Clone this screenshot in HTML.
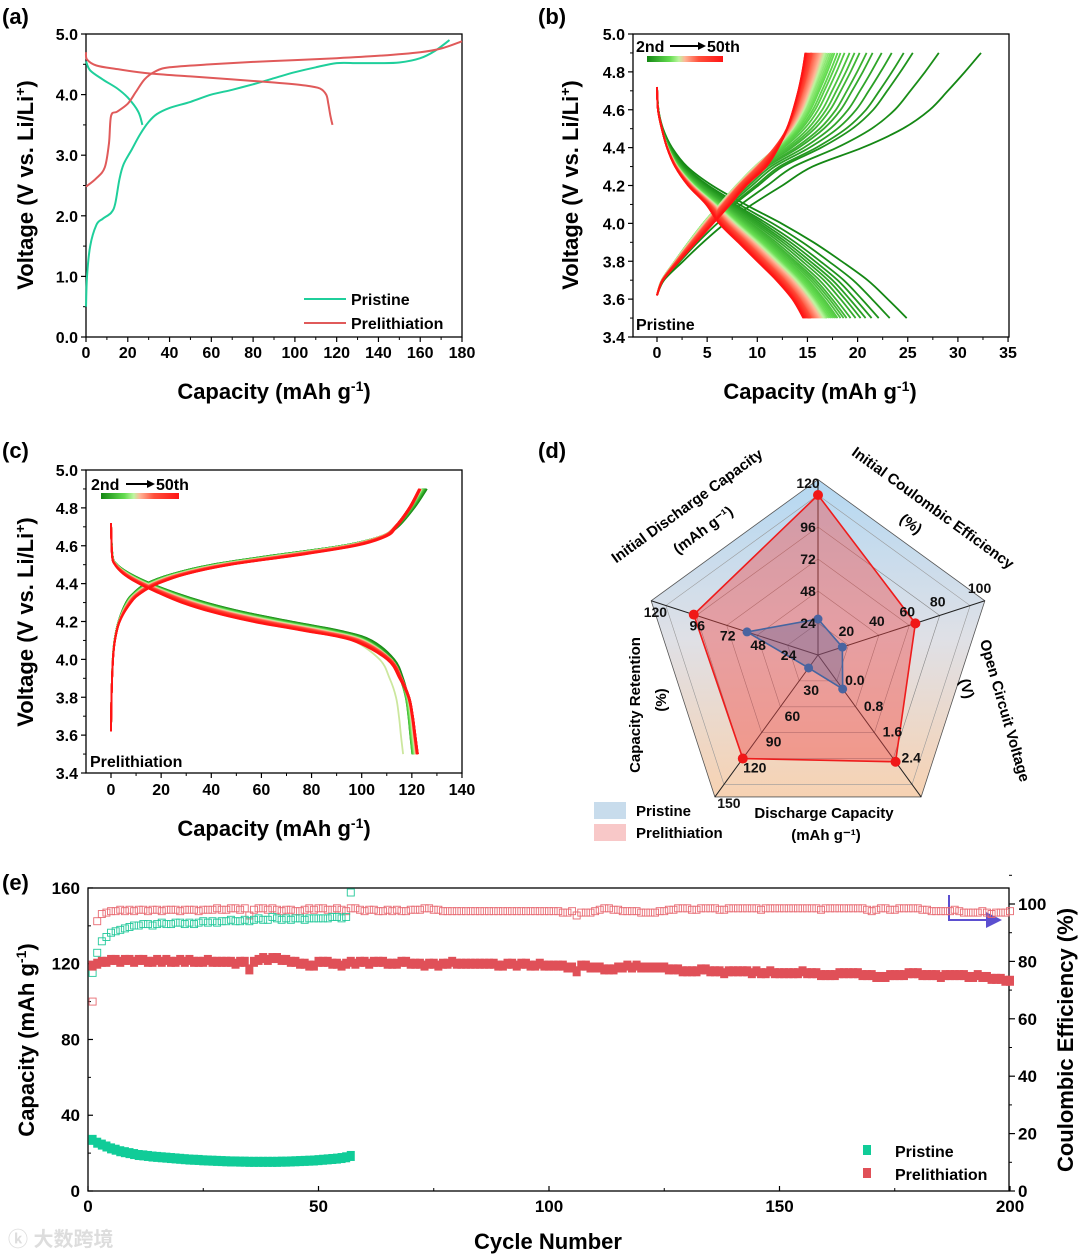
<!DOCTYPE html>
<html><head><meta charset="utf-8"><style>
html,body{margin:0;padding:0;background:#fff;}
svg{display:block;font-family:"Liberation Sans","Noto Sans CJK SC",sans-serif;}
.b{font-weight:bold;}
</style></head><body>
<svg id="fig" width="1080" height="1256" viewBox="0 0 1080 1256" xmlns="http://www.w3.org/2000/svg">
<defs>
<linearGradient id="cyc" x1="0" x2="1" y1="0" y2="0">
<stop offset="0" stop-color="#148714"/><stop offset="0.3" stop-color="#64dc50"/><stop offset="0.42" stop-color="#bef5a0"/><stop offset="0.5" stop-color="#ffb496"/><stop offset="0.68" stop-color="#ff503c"/><stop offset="1" stop-color="#ff1414"/>
</linearGradient>
<linearGradient id="radbg" x1="0" x2="0" y1="0" y2="1">
<stop offset="0" stop-color="#b4d8f2"/><stop offset="0.5" stop-color="#dfe0e6"/><stop offset="1" stop-color="#f7d2b2"/>
</linearGradient>
<marker id="arrowhead" markerWidth="8" markerHeight="8" refX="6" refY="4" orient="auto"><path d="M0,0 L8,4 L0,8 z" fill="#5b4fd0"/></marker>
</defs>

<text x="2" y="24" font-size="22" class="b">(a)</text>
<text x="538" y="24" font-size="22" class="b">(b)</text>
<text x="2" y="458" font-size="22" class="b">(c)</text>
<text x="538" y="458" font-size="22" class="b">(d)</text>
<text x="2" y="890" font-size="22" class="b">(e)</text>

<text transform="translate(33,185) rotate(-90)" text-anchor="middle" font-size="22" class="b">Voltage (V vs. Li/Li<tspan dy="-8" font-size="14">+</tspan><tspan dy="8">)</tspan></text>
<text x="274" y="399" text-anchor="middle" font-size="22" class="b">Capacity (mAh g<tspan dy="-8" font-size="14">-1</tspan><tspan dy="8">)</tspan></text>
<text transform="translate(578,185) rotate(-90)" text-anchor="middle" font-size="22" class="b">Voltage (V vs. Li/Li<tspan dy="-8" font-size="14">+</tspan><tspan dy="8">)</tspan></text>
<text x="820" y="399" text-anchor="middle" font-size="22" class="b">Capacity (mAh g<tspan dy="-8" font-size="14">-1</tspan><tspan dy="8">)</tspan></text>
<text transform="translate(33,622) rotate(-90)" text-anchor="middle" font-size="22" class="b">Voltage (V vs. Li/Li<tspan dy="-8" font-size="14">+</tspan><tspan dy="8">)</tspan></text>
<text x="274" y="836" text-anchor="middle" font-size="22" class="b">Capacity (mAh g<tspan dy="-8" font-size="14">-1</tspan><tspan dy="8">)</tspan></text>
<text transform="translate(34,1040) rotate(-90)" text-anchor="middle" font-size="22" class="b">Capacity (mAh g<tspan dy="-8" font-size="14">-1</tspan><tspan dy="8">)</tspan></text>
<text transform="translate(1073,1040) rotate(-90)" text-anchor="middle" font-size="22" class="b">Coulombic Efficiency (%)</text>
<text x="548" y="1249" text-anchor="middle" font-size="22" class="b">Cycle Number</text>

<g>
<line x1="304" y1="299" x2="346" y2="299" stroke="#1fcf9b" stroke-width="2"/>
<text x="351" y="305" font-size="16" class="b">Pristine</text>
<line x1="304" y1="323" x2="346" y2="323" stroke="#e05a5a" stroke-width="2"/>
<text x="351" y="329" font-size="16" class="b">Prelithiation</text>
</g>
<g>
<text x="636" y="52" font-size="16" class="b">2nd</text>
<line x1="670" y1="46" x2="698" y2="46" stroke="#000" stroke-width="2"/><path d="M698,42 L706,46 L698,50z"/>
<text x="707" y="52" font-size="16" class="b">50th</text>
<rect x="647" y="56" width="76" height="6" fill="url(#cyc)"/>
<text x="636" y="330" font-size="16" class="b">Pristine</text>
</g>
<g>
<text x="91" y="490" font-size="16" class="b">2nd</text>
<line x1="126" y1="484" x2="147" y2="484" stroke="#000" stroke-width="2"/><path d="M147,480 L155,484 L147,488z"/>
<text x="156" y="490" font-size="16" class="b">50th</text>
<rect x="101" y="493" width="78" height="6" fill="url(#cyc)"/>
<text x="90" y="767" font-size="16" class="b">Prelithiation</text>
</g>
<g>
<rect x="863" y="1145" width="8" height="10" fill="#10cc98"/>
<text x="895" y="1157" font-size="16" class="b">Pristine</text>
<rect x="863" y="1168" width="8" height="10" fill="#e05058"/>
<text x="895" y="1180" font-size="16" class="b">Prelithiation</text>
</g>
<path d="M949,895 L949,920 L998,920" fill="none" stroke="#5b4fd0" stroke-width="2" marker-end="url(#arrowhead)"/>
<text x="8" y="1246" font-size="20" fill="#ddd" class="b">ⓚ 大数跨境</text>

<g id="gA"></g><g id="gB"></g><g id="gC"></g><g id="gD"></g><g id="gE"></g>
</svg>
<script>
// ===== Panel (a) data =====
const aPristineChargeCap = [0,0.5,2,5,8,12,14,16,18,22,26,30,34,40,50,60,70,80,90,100,110,120,130,140,150,160,167,174];
const aPristineChargeV   = [0.5,1.0,1.5,1.85,1.95,2.05,2.2,2.6,2.85,3.1,3.35,3.55,3.68,3.78,3.88,4.0,4.08,4.17,4.27,4.37,4.45,4.52,4.52,4.52,4.53,4.6,4.72,4.9];
const aPristineDisCap = [0,2,8,15,20,25,27];
const aPristineDisV   = [4.55,4.4,4.25,4.1,3.95,3.72,3.5];
const aPreChargeCap = [0,5,9,11,12,15,20,24,28,33,40,60,80,100,120,140,160,170,180];
const aPreChargeV   = [2.48,2.62,2.8,3.2,3.65,3.72,3.85,4.05,4.25,4.38,4.45,4.5,4.54,4.57,4.6,4.64,4.7,4.76,4.88];
const aPreDisCap = [0,0.5,5,15,30,50,70,90,105,112,115,116,117,118];
const aPreDisV   = [4.7,4.58,4.48,4.42,4.35,4.3,4.25,4.2,4.15,4.1,4.0,3.85,3.65,3.5];
const aXTicks = [0,20,40,60,80,100,120,140,160,180];
const aYTicks = [0,1,2,3,4,5];
const aYLabels = ["0.0","1.0","2.0","3.0","4.0","5.0"];

// ===== Panel (b) data =====
const bChargeV = [3.62,3.7,3.8,3.9,4.0,4.1,4.2,4.3,4.4,4.5,4.6,4.7,4.8,4.9];
const bChargeCapFirst = [0,0.7,2.6,4.6,6.8,9.5,12.5,15.5,20.5,24.5,27.2,29,30.7,32.3];
const bChargeCapLast  = [0,0.6,2.2,3.9,5.6,7.3,8.9,10.9,12.1,13.0,13.6,14.1,14.5,14.8];
const bDisV = [4.72,4.6,4.5,4.4,4.3,4.2,4.1,4.0,3.9,3.8,3.7,3.6,3.5];
const bDisCapFirst = [0,0.15,0.6,1.5,3.0,5.5,8.8,12.4,15.6,18.4,21.0,23.0,24.9];
const bDisCapLast  = [0,0.1,0.5,1.0,1.8,3.1,4.9,6.2,8.1,10.0,11.9,13.5,14.6];
const bChargeEnd = [32.3,28.1,25.5,24.6,23.4,22.4,21.5,20.9,20.2,19.7,19.2,18.7,18.3,18.0,17.7,17.5,17.3,17.1,16.9,16.8,16.7,16.6,16.5,16.4,16.3,16.2,16.1,16.0,15.9,15.8,15.7,15.6,15.5,15.45,15.4,15.35,15.3,15.25,15.2,15.15,15.1,15.05,15.0,14.95,14.9,14.9,14.85,14.8,14.8];
const bDisEnd = [24.9,23.2,22.1,21.4,20.8,20.3,19.8,19.3,18.9,18.6,18.3,18.0,17.8,17.6,17.4,17.2,17.0,16.9,16.8,16.7,16.6,16.5,16.4,16.3,16.2,16.1,16.0,15.9,15.8,15.7,15.6,15.5,15.4,15.35,15.3,15.25,15.2,15.15,15.1,15.05,15.0,14.95,14.9,14.85,14.8,14.75,14.7,14.65,14.6];
const bXTicks = [0,5,10,15,20,25,30,35];
const bYTicks = [3.4,3.6,3.8,4.0,4.2,4.4,4.6,4.8,5.0];

// ===== Panel (c) data =====
const cChargeV = [3.62,3.8,4.0,4.1,4.2,4.3,4.35,4.4,4.45,4.5,4.55,4.6,4.65,4.7,4.8,4.9];
const cChargeCapFirst = [0,0.2,0.7,1.4,3,6,9,14,24,40,65,92,108,114.5,121,126];
const cChargeCapLast  = [0,0.2,0.8,1.6,3.5,8,12,19,30,48,75,98,110,114,119.5,123.5];
const cDisV = [4.72,4.55,4.5,4.45,4.4,4.35,4.3,4.25,4.2,4.15,4.1,4.0,3.9,3.8,3.7,3.6,3.5];
const cDisCapFirst = [0,0.6,2.5,8,16,26,38,53,72,92,104,113,116.5,118.5,119.5,120.2,121];
const cDisCapLast  = [0,0.4,1.5,5,11,19,28,40,56,77,96,110,115,118.5,120,121,122];
const cChargeEnd = [126,125.8,125.6,125.5,125.3,125.2,125,124.9,124.8,124.7,124.6,124.5,124.4,124.3,124.2,124.1,124,124,123.9,123.8,123.8,123.7,123.7,123.6,123.6,123.5,123.5,123.5,123.4,123.4,123.4,123.3,123.3,123.3,123.2,123.2,123.2,123.2,123.1,123.1,123.1,123,123,123,123,123,122.9,122.9,123.5];
const cDisEnd = [121,120.8,120.6,120.5,120.4,120.3,120.3,120.2,120.2,120.3,120.4,120.5,120.6,120.7,120.8,120.9,121,121.1,121.2,121.3,121.4,116.5,121.5,121.6,121.7,121.7,121.8,121.8,121.9,121.9,122,122,122,122.1,122.1,122.1,122.2,122.2,122.2,122.2,122.3,122.3,122.3,122.3,122.4,122.4,122.4,122.4,122];
const cXTicks = [0,20,40,60,80,100,120,140];
const cYTicks = [3.4,3.6,3.8,4.0,4.2,4.4,4.6,4.8,5.0];

// ===== Panel (d) data =====
const dAxes = ["Initial Discharge Capacity","Initial Coulombic Efficiency","Open Circuit Voltage","Discharge Capacity","Capacity Retention"];
const dMax = [120,100,4.0,150,120];
const dPristine = [27,16,1.05,15,56];
const dPrelith = [120,64,3.3,120,98];
const dTickLabels = [["24","48","72","96","120"],["20","40","60","80","100"],["0.0","0.8","1.6","2.4",""],["30","60","90","120","150"],["24","48","72","96","120"]];

// ===== Panel (e) data =====
const ePreCap = [119,120,121,121,122,122,121,122,122,121,122,122,121,121,122,121,122,121,121,122,
121,122,121,121,121,122,121,121,121,121,121,120,121,121,117,121,122,123,122,123,
123,122,122,121,121,120,120,119,119,121,121,121,120,120,119,120,121,120,121,121,
120,121,121,121,120,120,120,121,121,120,120,120,119,120,120,119,120,120,121,120,
120,120,120,120,120,120,120,120,119,119,120,120,119,120,120,119,119,120,119,119,
119,119,119,118,118,116,119,119,118,118,118,117,117,117,118,118,119,118,119,118,
118,118,118,118,118,117,117,117,116,116,116,116,117,117,116,116,116,115,116,116,
116,116,116,115,116,115,115,116,115,115,115,115,115,115,116,115,115,115,114,114,
114,114,115,115,115,115,115,114,114,114,113,113,113,114,114,114,114,115,115,115,
114,114,114,114,113,114,114,114,114,114,113,113,114,113,113,112,112,112,111,111];
const ePreCE = [66,94,96.5,97,97.5,97.5,98,97.5,98,97.5,98,98,97.5,98,98,97.5,98,98,98,97.5,
98,98,98,97.5,98,98,98,98.5,98,98,98.5,98.5,98,98.5,96,98,98.5,98.5,98,98.5,
98,97.5,98,98,97.5,97.5,98,98.5,98,98.5,98.5,98,98,98.5,98,97.5,98.5,98.5,98,97.5,
98,98,97.5,97.5,98,97.5,98,97.5,97.5,98,98,98,98.5,98.5,98,98,97.5,97.5,97.5,97.5,
97.5,97.5,97.5,97.5,97.5,97.5,97.5,97.5,97.5,97.5,97.5,97.5,97.5,97.5,97.5,97.5,97.5,97.5,97.5,97.5,
97.5,97.5,97,97,97.5,96,97,97,97,97.5,98,98.5,98.5,98,98,97.5,97.5,97.5,97.5,97,
97,97,97,97.5,97.5,98,98,98.5,98.5,98.5,98,98,98.5,98.5,98.5,98.5,98,98,98.5,98.5,
98.5,98.5,98.5,98.5,98.5,98,98.5,98.5,98.5,98.5,98.5,98.5,98.5,98.5,98.5,98.5,98.5,98.5,98,98.5,
98.5,98.5,98.5,98.5,98.5,98.5,98.5,98.5,98,97.5,98,98.5,98.5,98,98,98.5,98.5,98.5,98.5,98.5,
98,98,97.5,97.5,97.5,97.5,97.5,98,97.5,97,97,97,97,97.5,97,96.5,97,97,97,97.5];
const ePriCap = [27,25.5,24.5,23.5,22.5,21.8,21,20.5,20,19.5,19,18.8,18.5,18.2,18,17.8,17.6,17.4,17.2,17,16.8,16.6,16.5,16.4,16.2,16.1,16,15.9,15.8,15.7,15.6,15.6,15.5,15.5,15.4,15.4,15.4,15.4,15.4,15.4,15.4,15.5,15.5,15.6,15.7,15.8,15.9,16,16.1,16.3,16.5,16.7,16.9,17.1,17.4,17.8,18.5];
const ePriCE = [76,83,87,88.5,90,90.5,91,91.5,92,92.5,92.5,93,93,92.5,93,93.5,93,93,93.5,93.5,93,93.5,93,93.5,94,93.5,94,93.5,94,94,94.5,94,94,94.5,94,94.5,95,94.5,94.5,95.5,95,94.5,95,94.5,95,95,94.5,95,95,95,95,95,95.5,95.5,95,95.5,104];
const eXTicks = [0,50,100,150,200];
const eYLTicks = [0,40,80,120,160];
const eYRTicks = [0,20,40,60,80,100];

const NS = 'http://www.w3.org/2000/svg';
function mk(tag, attrs, parent){const e=document.createElementNS(NS,tag);for(const k in attrs)e.setAttribute(k,attrs[k]);parent.appendChild(e);return e;}
// Catmull-Rom smoothed path through data points
function pathOf(xs, ys, sx, sy){
  const P=xs.map((x,i)=>[sx(x),sy(ys[i])]);
  let d='M'+P[0][0].toFixed(1)+','+P[0][1].toFixed(1);
  for(let i=0;i<P.length-1;i++){
    const p0=P[Math.max(0,i-1)],p1=P[i],p2=P[i+1],p3=P[Math.min(P.length-1,i+2)];
    const c1=[p1[0]+(p2[0]-p0[0])/6,p1[1]+(p2[1]-p0[1])/6];
    const c2=[p2[0]-(p3[0]-p1[0])/6,p2[1]-(p3[1]-p1[1])/6];
    d+='C'+c1[0].toFixed(1)+','+c1[1].toFixed(1)+' '+c2[0].toFixed(1)+','+c2[1].toFixed(1)+' '+p2[0].toFixed(1)+','+p2[1].toFixed(1);
  }
  return d;
}
function lerp(a,b,t){return a+(b-a)*t;}
const stops=[[0,[20,135,20]],[0.3,[100,220,80]],[0.42,[190,245,160]],[0.5,[255,180,150]],[0.68,[255,80,60]],[1,[255,20,20]]];
function cycColor(t){for(let i=1;i<stops.length;i++){if(t<=stops[i][0]){const u=(t-stops[i-1][0])/(stops[i][0]-stops[i-1][0]);const c=stops[i-1][1].map((v,j)=>Math.round(lerp(v,stops[i][1][j],u)));return 'rgb('+c.join(',')+')';}}return 'rgb(255,20,20)';}

function frame(g, o){
  const box=mk('rect',{x:o.x0,y:o.y0,width:o.x1-o.x0,height:o.y1-o.y0,fill:'none',stroke:'#000','stroke-width':1.3},g);
  
  
  o.xt.forEach((v,i)=>{
    const x=o.sx(v);
    mk('line',{x1:x,y1:o.y1,x2:x,y2:o.y1+(o.inward?-5:5),stroke:'#000','stroke-width':1.2},g);
    const t=mk('text',{x:x,y:o.xly,'text-anchor':'middle','font-size':o.fs||16,'font-weight':'bold'},g);
    t.textContent=o.xl?o.xl[i]:String(v);
    
    
    if(i<o.xt.length-1){const xm=o.sx((v+o.xt[i+1])/2);mk('line',{x1:xm,y1:o.y1,x2:xm,y2:o.y1+(o.inward?-3:3),stroke:'#000','stroke-width':1},g);}
  });
  o.yt.forEach((v,i)=>{
    const y=o.sy(v);
    mk('line',{x1:o.x0,y1:y,x2:o.x0+(o.inward?5:-5),y2:y,stroke:'#000','stroke-width':1.2},g);
    const t=mk('text',{x:o.x0-8,y:y+6,'text-anchor':'end','font-size':o.fs||16,'font-weight':'bold'},g);
    t.textContent=o.yl?o.yl[i]:v.toFixed(1);
    
    
    if(i<o.yt.length-1){const ym=o.sy((v+o.yt[i+1])/2);mk('line',{x1:o.x0,y1:ym,x2:o.x0+(o.inward?3:-3),y2:ym,stroke:'#000','stroke-width':1},g);}
  });
}

(function(){
const g=document.getElementById('gA');
const sx=v=>86+v*(376/180), sy=v=>337-v*(303/5);
frame(g,{name:'panel-a',x0:86,x1:462,y0:34,y1:337,sx,sy,xt:aXTicks,yt:aYTicks,yl:aYLabels,xly:358});
const series=[[aPristineChargeCap,aPristineChargeV,'#1fcf9b','pristine-charge-curve'],[aPristineDisCap,aPristineDisV,'#1fcf9b','pristine-discharge-curve'],[aPreChargeCap,aPreChargeV,'#e05a5a','prelithiation-charge-curve'],[aPreDisCap,aPreDisV,'#e05a5a','prelithiation-discharge-curve']];
series.forEach(s=>{
  const p=mk('path',{d:pathOf(s[0],s[1],sx,sy),fill:'none',stroke:s[2],'stroke-width':2},g);
  
  
});
})();

function cycles(g, sx, sy, chV, chF, chL, dsV, dsF, dsL, chEnd, dsEnd, prefix){
  const n=chEnd.length;
  for(let i=0;i<n;i++){
    const t=i/(n-1), col=cycColor(t);
    const fF=chF[chF.length-1], fL=chL[chL.length-1];
    const caps=chV.map((v,k)=>lerp(chF[k]/fF,chL[k]/fL,t)*chEnd[i]);
    const p=mk('path',{d:pathOf(caps,chV,sx,sy),fill:'none',stroke:col,'stroke-width':1.8},g);
    
    
    const dF=dsF[dsF.length-1], dL=dsL[dsL.length-1];
    const dcaps=dsV.map((v,k)=>lerp(dsF[k]/dF,dsL[k]/dL,t)*dsEnd[i]);
    const q=mk('path',{d:pathOf(dcaps,dsV,sx,sy),fill:'none',stroke:col,'stroke-width':1.8},g);
    
    
  }
}

(function(){
const g=document.getElementById('gB');
const sx=v=>657+v*10.03, sy=v=>337-(v-3.4)*(303/1.6);
frame(g,{name:'panel-b',x0:633,x1:1009,y0:34,y1:337,sx,sy,xt:bXTicks,yt:bYTicks,xly:358});
cycles(g,sx,sy,bChargeV,bChargeCapFirst,bChargeCapLast,bDisV,bDisCapFirst,bDisCapLast,bChargeEnd,bDisEnd,'pristine-cycle');
})();

(function(){
const g=document.getElementById('gC');
const sx=v=>111+v*2.507, sy=v=>773-(v-3.4)*(303/1.6);
frame(g,{name:'panel-c',x0:86,x1:462,y0:470,y1:773,sx,sy,xt:cXTicks,yt:cYTicks,xly:795});
cycles(g,sx,sy,cChargeV,cChargeCapFirst,cChargeCapLast,cDisV,cDisCapFirst,cDisCapLast,cChargeEnd,cDisEnd,'prelithiation-cycle');
})();

(function(){
const g=document.getElementById('gD');
const C=[818,655], R=172;
const ang=[-90,-18,54,126,198].map(a=>a*Math.PI/180);
const pt=(k,r)=>[C[0]+R*r*Math.cos(ang[k]),C[1]+R*r*Math.sin(ang[k])];
const poly=r=>ang.map((a,k)=>pt(k,r).join(',')).join(' ');
const base=mk('polygon',{points:poly(1.02),fill:'url(#radbg)',stroke:'#555','stroke-width':0.8},g);


mk('polygon',{points:poly(0.93),fill:'none',stroke:'#999','stroke-width':0.6},g);
for(let r=1;r<=4;r++){mk('polygon',{points:poly(r/5*0.93),fill:'none',stroke:'#888','stroke-width':0.6},g);}
ang.forEach((a,k)=>{const p=pt(k,1.02);mk('line',{x1:C[0],y1:C[1],x2:p[0],y2:p[1],stroke:'#222','stroke-width':1},g);});
const polyData=(vals)=>vals.map((v,k)=>pt(k,v/dMax[k]*0.93));
const pre=polyData(dPrelith), pri=polyData(dPristine);
const pp=mk('polygon',{points:pre.map(p=>p.join(',')).join(' '),fill:'rgba(240,70,70,0.42)',stroke:'#ee1c1c','stroke-width':1.6},g);


const bp=mk('polygon',{points:pri.map(p=>p.join(',')).join(' '),fill:'rgba(80,90,150,0.35)',stroke:'#4565a0','stroke-width':1.6},g);


pre.forEach(p=>{const c=mk('circle',{cx:p[0],cy:p[1],r:5,fill:'#f01818'},g);
  
  });
pri.forEach(p=>{const c=mk('circle',{cx:p[0],cy:p[1],r:4.5,fill:'#4a64a0'},g);
  
  });
const off=[[-10,5],[-2,-9],[18,4],[12,14],[1,15]];
dTickLabels.forEach((labs,k)=>labs.forEach((s,r)=>{
  const p=pt(k,(r+1)/5*0.93+(r==4?0.07:0));
  const t=mk('text',{x:p[0]+off[k][0],y:p[1]+off[k][1],'text-anchor':'middle','font-size':14,'font-weight':'bold',fill:'#111'},g);
  t.textContent=s;
  
  
}));
const labs=[["Initial Discharge Capacity",690,510,-36],["(mAh g⁻¹)",706,534,-36],["Initial Coulombic Efficiency",930,512,36],["(%)",908,528,36],["Open Circuit Voltage",1000,712,74],["(V)",962,690,74],["Capacity Retention",640,705,-90],["(%)",666,700,-90],["Discharge Capacity",824,818,0],["(mAh g⁻¹)",826,840,0]];
labs.forEach(l=>{
  const t=mk('text',{transform:'translate('+l[1]+','+l[2]+') rotate('+l[3]+')','text-anchor':'middle','font-size':15,'font-weight':'bold'},g);
  t.textContent=l[0];
  
  
});
const lg=mk('g',{},g);


mk('rect',{x:594,y:802,width:32,height:17,fill:'#c8dcec'},lg);
mk('text',{x:636,y:816,'font-size':15,'font-weight':'bold'},lg).textContent='Pristine';
mk('rect',{x:594,y:824,width:32,height:17,fill:'#f8c8c8'},lg);
mk('text',{x:636,y:838,'font-size':15,'font-weight':'bold'},lg).textContent='Prelithiation';
})();

(function(){
const g=document.getElementById('gE');
const sx=v=>88+v*4.61, syL=v=>1191-v*1.894, syR=v=>1191-v*2.87;
frame(g,{name:'panel-e',x0:88,x1:1009,y0:888,y1:1191,sx,sy:syL,xt:eXTicks,yt:eYLTicks,yl:eYLTicks.map(String),xly:1212,inward:true,fs:17});
eYRTicks.forEach((v,i)=>{
  const y=syR(v);
  mk('line',{x1:1009,y1:y,x2:1015,y2:y,stroke:'#000','stroke-width':1.2},g);
  mk('line',{x1:1009,y1:syR(v+10),x2:1012,y2:syR(v+10),stroke:'#000','stroke-width':1},g);
  const t=mk('text',{x:1018,y:y+6,'font-size':17,'font-weight':'bold'},g);
  t.textContent=String(v);
  
  
});
ePreCE.forEach((v,i)=>{const r=mk('rect',{x:sx(i+1)-3.5,y:Math.max(889,syR(v)-3.5),width:7,height:7,fill:'none',stroke:'#e86a72','stroke-width':0.9},g);
  
  });
ePriCE.forEach((v,i)=>{const r=mk('rect',{x:sx(i+1)-3.5,y:Math.max(889,syR(v)-3.5),width:7,height:7,fill:'none',stroke:'#22c89a','stroke-width':0.9},g);
  
  });
ePreCap.forEach((v,i)=>{const r=mk('rect',{x:sx(i+1)-4,y:syL(v)-5,width:8,height:10,fill:'#e05058'},g);
  
  });
ePriCap.forEach((v,i)=>{const r=mk('rect',{x:sx(i+1)-4,y:syL(v)-5,width:8,height:10,fill:'#10cc98'},g);
  
  });
})();
</script>
</body></html>
